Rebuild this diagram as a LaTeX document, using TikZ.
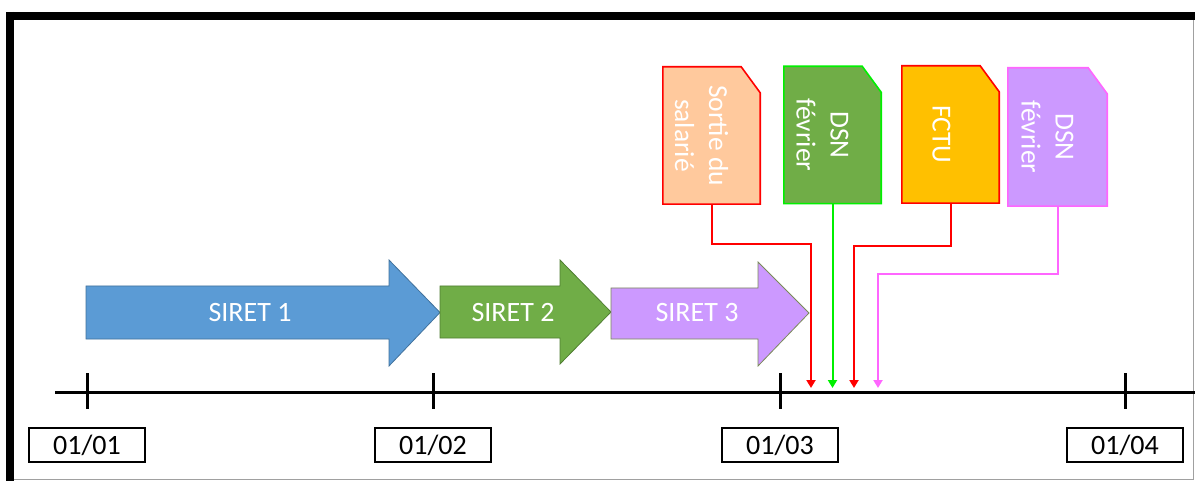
\documentclass[tikz,border=0pt]{standalone}
\usepackage{fontspec}
\setmainfont{Carlito}
\usetikzlibrary{arrows.meta,calc}
\definecolor{sblue}{HTML}{5B9BD5}
\definecolor{sblueE}{HTML}{41719C}
\definecolor{sgreen}{HTML}{70AD47}
\definecolor{sgreenE}{HTML}{507E32}
\definecolor{spurple}{HTML}{CC99FF}
\definecolor{spurpleE}{HTML}{7A8A5A}
\definecolor{peach}{HTML}{FFC99D}
\definecolor{gold}{HTML}{FFC000}
\definecolor{lgreen}{HTML}{00F000}
\definecolor{pink}{HTML}{FF66FF}
\definecolor{framegray}{HTML}{A0A0A0}
\begin{document}
\begin{tikzpicture}[x=1pt,y=-1pt,
  datebox/.style={draw=black,line width=1.6pt,minimum width=116pt,minimum height=34pt,inner sep=0pt,font=\fontsize{28}{30}\selectfont},
  docbox/.style={minimum width=97pt,minimum height=137pt,inner sep=0pt},
  doctext/.style={rotate=-90,text=white,align=center,inner sep=0pt,font=\fontsize{27.5}{34}\selectfont},
  sirettext/.style={text=white,inner sep=0pt,font=\fontsize{28}{30}\selectfont},
  tick/.style={line width=3pt},
  conn/.style={line width=2pt,-{Triangle[length=8pt,width=9pt]}}
]
\useasboundingbox (0,0) rectangle (1195,481);
% frame
\draw[framegray,line width=1pt] (1193,20) -- (1193,479) -- (14,479);
\draw[line width=8pt] (6,16) -- (1195,16);
\draw[line width=7.5pt] (10,12) -- (10,481);

% timeline
\draw[line width=3pt] (55,392) -- (1195,392);
\foreach \x in {87,433,780,1125} \draw[tick] (\x,373) -- (\x,409);

% date boxes
\node[datebox] (j1) at (87,445) {01/01};
\node[datebox] (j2) at (433,445) {01/02};
\node[datebox] (j3) at (780,445) {01/03};
\node[datebox] (j4) at (1125,445) {01/04};

% SIRET arrows
\filldraw[fill=sblue,draw=sblueE,line width=0.8pt]
  (86,286) -- (389,286) -- (389,260) -- (440,312.5) -- (389,366) -- (389,339) -- (86,339) -- cycle;
\filldraw[fill=sgreen,draw=sgreenE,line width=0.8pt]
  (440,286) -- (560,286) -- (560,260) -- (611,312) -- (560,364) -- (560,338) -- (440,338) -- cycle;
\filldraw[fill=spurple,draw=spurpleE,line width=0.8pt]
  (611,288) -- (758,288) -- (758,262) -- (809,313) -- (758,366) -- (758,339) -- (611,339) -- cycle;
\node[sirettext] (s1) at (250,313) {SIRET 1};
\node[sirettext] (s2) at (513,313) {SIRET 2};
\node[sirettext] (s3) at (697,313) {SIRET 3};

% documents
\path node[docbox] (d1) at (711.5,135.5) {}
      node[docbox] (d2) at (832.5,135) {}
      node[docbox] (d3) at (950.5,134.5) {}
      node[docbox,minimum width=99pt,minimum height=138pt] (d4) at (1057.5,137) {};
\foreach \d/\f/\c in {d1/peach/red,d2/sgreen/lgreen,d3/gold/red,d4/spurple/pink}
  \filldraw[fill=\f,draw=\c,line width=1.6pt,line join=miter]
    (\d.north west) -- ($(\d.north east)+(-19,0)$) -- ($(\d.north east)+(0,26)$)
    -- (\d.south east) -- (\d.south west) -- cycle;
\node[doctext] (t1) at ($(d1.center)+(-10,0)$) {Sortie du\\salarié};
\node[doctext] (t2) at ($(d2.center)+(-10,0)$) {DSN\\février};
\node[doctext] (t3) at ($(d3.center)+(-9,0)$) {FCTU};
\node[doctext] (t4) at ($(d4.center)+(-10,0)$) {DSN\\février};

% connectors
\coordinate (a1) at (811,388);
\coordinate (a2) at (832.5,388);
\coordinate (a3) at (854,388);
\coordinate (a4) at (878,388);
\coordinate (b1) at (811,244);
\coordinate (b3) at (854,246);
\coordinate (b4) at (878,274);
\draw[conn,red] (d1.south) |- (b1) -- (a1);
\draw[conn,lgreen] (d2.south) -- (a2);
\draw[conn,red] (d3.south) |- (b3) -- (a3);
\draw[conn,pink] (d4.south) |- (b4) -- (a4);
\end{tikzpicture}
\end{document}
